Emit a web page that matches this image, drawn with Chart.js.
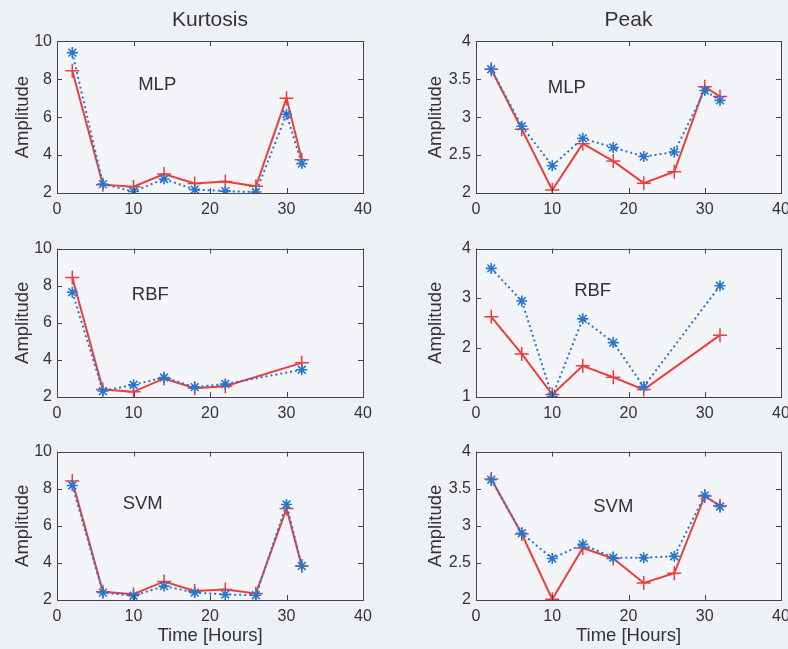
<!DOCTYPE html>
<html>
<head>
<meta charset="utf-8">
<script src="https://cdn.jsdelivr.net/npm/chart.js@4.4.0/dist/chart.umd.min.js"></script>
<style>
  html, body { margin: 0; padding: 0; background: #edf0f5; width: 788px; height: 649px; overflow: hidden; position: relative; }
  canvas { position: absolute; }
</style>
</head>
<body>
<canvas id="kurtMlp" width="394" height="223" style="left:0;top:0"></canvas>
<canvas id="peakMlp" width="420" height="223" style="left:394px;top:0"></canvas>
<canvas id="kurtRbf" width="394" height="193" style="left:0;top:234px"></canvas>
<canvas id="peakRbf" width="420" height="193" style="left:394px;top:234px"></canvas>
<canvas id="kurtSvm" width="394" height="212" style="left:0;top:437px"></canvas>
<canvas id="peakSvm" width="420" height="212" style="left:394px;top:437px"></canvas>
<script>
'use strict';

// time axis (hours)
var hours = [2, 6, 10, 14, 18, 22, 26, 30, 32];
var hoursRbf = [2, 6, 10, 14, 18, 22, 32];
var xTicks = [0, 10, 20, 30, 40];

// Kurtosis
var kurtMlpRed  = [8.44, 2.44, 2.33, 3.0, 2.5, 2.6, 2.35, 7.0, 3.75];
var kurtMlpBlue = [9.4, 2.47, 2.08, 2.74, 2.18, 2.1, 2.05, 6.15, 3.55];
var kurtRbfRed  = [8.44, 2.4, 2.28, 3.0, 2.47, 2.58, 3.84];
var kurtRbfBlue = [7.65, 2.32, 2.66, 3.05, 2.53, 2.7, 3.47];
var kurtSvmRed  = [8.41, 2.44, 2.31, 3.0, 2.49, 2.56, 2.35, 6.93, 3.83];
var kurtSvmBlue = [8.17, 2.4, 2.23, 2.75, 2.4, 2.3, 2.26, 7.15, 3.83];

// Peak
var peakMlpRed  = [3.63, 2.84, 2.04, 2.65, 2.42, 2.13, 2.28, 3.40, 3.27];
var peakMlpBlue = [3.63, 2.88, 2.36, 2.72, 2.6, 2.48, 2.54, 3.35, 3.22];
var peakRbfRed  = [2.62, 1.87, 1.05, 1.63, 1.40, 1.15, 2.25];
var peakRbfBlue = [3.6, 2.94, 1.01, 2.58, 2.1, 1.21, 3.25];
var peakSvmRed  = [3.63, 2.89, 2.01, 2.70, 2.56, 2.23, 2.36, 3.40, 3.27];
var peakSvmBlue = [3.62, 2.9, 2.56, 2.75, 2.57, 2.57, 2.59, 3.41, 3.26];

var FONT = '"Liberation Sans", Arial, Helvetica, sans-serif';
var TXT = '#333';
var RED = 'rgb(236,62,60)';
var BLUE = 'rgb(38,118,208)';

function pts(xs, ys) {
    return xs.map(function (x, i) { return { x: x, y: ys[i] }; });
}

// matlab-ish box with inward ticks + panel label + light plot background
var boxPlugin = {
    id: 'boxPlugin',
    beforeDraw: function (chart) {
        var a = chart.chartArea, ctx = chart.ctx;
        ctx.save();
        ctx.fillStyle = '#f3f5f9';
        ctx.fillRect(a.left, a.top, a.right - a.left, a.bottom - a.top);
        ctx.restore();
    },
    afterDraw: function (chart) {
        var a = chart.chartArea, ctx = chart.ctx;
        var xs = chart.scales.x, ys = chart.scales.y;
        ctx.save();
        ctx.strokeStyle = '#444';
        ctx.lineWidth = 1;
        ctx.beginPath();
        xs.ticks.forEach(function (t) {
            var px = Math.round(xs.getPixelForValue(t.value)) + 0.5;
            ctx.moveTo(px, a.bottom); ctx.lineTo(px, a.bottom - 5);
            ctx.moveTo(px, a.top); ctx.lineTo(px, a.top + 5);
        });
        ys.ticks.forEach(function (t) {
            var py = Math.round(ys.getPixelForValue(t.value)) + 0.5;
            ctx.moveTo(a.left, py); ctx.lineTo(a.left + 5, py);
            ctx.moveTo(a.right, py); ctx.lineTo(a.right - 5, py);
        });
        ctx.stroke();
        ctx.strokeRect(Math.round(a.left) + 0.5, Math.round(a.top) + 0.5,
            Math.round(a.right - a.left), Math.round(a.bottom - a.top));
        var lab = chart.options.plugins.boxPlugin;
        if (lab && lab.text) {
            ctx.fillStyle = TXT;
            ctx.font = '18.5px ' + FONT;
            ctx.textAlign = 'center';
            ctx.textBaseline = 'middle';
            ctx.fillText(lab.text, xs.getPixelForValue(lab.x), ys.getPixelForValue(lab.y));
        }
        ctx.restore();
    }
};

function makePanel(id, cfg) {
    var left = cfg.col === 0;
    var bottomRow = cfg.row === 2;
    var config = {
        type: 'line',
        data: {
            datasets: [{
                data: pts(cfg.xs, cfg.blue),
                borderColor: BLUE,
                borderWidth: 2,
                borderDash: [2, 3],
                pointStyle: 'star',
                pointRadius: 5.5,
                pointBorderWidth: 1.6,
                pointBorderColor: BLUE,
                order: 0
            }, {
                data: pts(cfg.xs, cfg.red),
                borderColor: RED,
                borderWidth: 2,
                pointStyle: 'cross',
                pointRadius: 7,
                pointBorderWidth: 1.5,
                pointBorderColor: RED,
                order: 1
            }]
        },
        options: {
            responsive: false,
            animation: false,
            layout: { padding: { top: cfg.row === 0 ? 0 : 10, left: 0, right: left ? 31 : 33, bottom: 0 } },
            plugins: {
                legend: { display: false },
                tooltip: { enabled: false },
                title: {
                    display: !!cfg.title,
                    text: cfg.title,
                    fullSize: false,
                    color: TXT,
                    font: { size: 21, family: FONT, weight: 'normal' },
                    padding: { top: 8, bottom: 8 }
                },
                boxPlugin: cfg.label
            },
            scales: {
                x: {
                    type: 'linear',
                    min: 0, max: 40,
                    afterBuildTicks: function (s) { s.ticks = xTicks.map(function (v) { return { value: v }; }); },
                    afterFit: function (s) { s.height = bottomRow ? 49 : 30; },
                    grid: { display: false, drawTicks: false },
                    border: { display: false },
                    ticks: { color: TXT, font: { size: 16, family: FONT }, padding: 7, maxRotation: 0 },
                    title: {
                        display: bottomRow,
                        text: 'Time [Hours]',
                        color: TXT,
                        font: { size: 18.5, family: FONT },
                        padding: { top: 0, bottom: 2 }
                    }
                },
                y: {
                    min: cfg.yMin, max: cfg.yMax,
                    ticks: {
                        stepSize: cfg.yStep,
                        color: TXT,
                        font: { size: 16, family: FONT },
                        padding: 5,
                        callback: function (v) { return String(+v.toFixed(2)); }
                    },
                    afterFit: function (s) { s.width = left ? 57 : 82; },
                    grid: { display: false, drawTicks: false },
                    border: { display: false },
                    title: {
                        display: true,
                        text: 'Amplitude',
                        color: TXT,
                        font: { size: 18.5, family: FONT },
                        padding: { top: left ? 12 : 31, bottom: 0 }
                    }
                }
            }
        },
        plugins: [boxPlugin]
    };
    return new Chart(document.getElementById(id), config);
}

makePanel('kurtMlp', { row: 0, col: 0, title: 'Kurtosis', xs: hours, red: kurtMlpRed, blue: kurtMlpBlue,
    yMin: 2, yMax: 10, yStep: 2, label: { text: 'MLP', x: 13.1, y: 7.7 } });
makePanel('peakMlp', { row: 0, col: 1, title: 'Peak', xs: hours, red: peakMlpRed, blue: peakMlpBlue,
    yMin: 2, yMax: 4, yStep: 0.5, label: { text: 'MLP', x: 11.9, y: 3.39 } });
makePanel('kurtRbf', { row: 1, col: 0, xs: hoursRbf, red: kurtRbfRed, blue: kurtRbfBlue,
    yMin: 2, yMax: 10, yStep: 2, label: { text: 'RBF', x: 12.2, y: 7.5 } });
makePanel('peakRbf', { row: 1, col: 1, xs: hoursRbf, red: peakRbfRed, blue: peakRbfBlue,
    yMin: 1, yMax: 4, yStep: 1, label: { text: 'RBF', x: 15.3, y: 3.15 } });
makePanel('kurtSvm', { row: 2, col: 0, xs: hours, red: kurtSvmRed, blue: kurtSvmBlue,
    yMin: 2, yMax: 10, yStep: 2, label: { text: 'SVM', x: 11.2, y: 7.2 } });
makePanel('peakSvm', { row: 2, col: 1, xs: hours, red: peakSvmRed, blue: peakSvmBlue,
    yMin: 2, yMax: 4, yStep: 0.5, label: { text: 'SVM', x: 18, y: 3.25 } });
</script>
</body>
</html>
